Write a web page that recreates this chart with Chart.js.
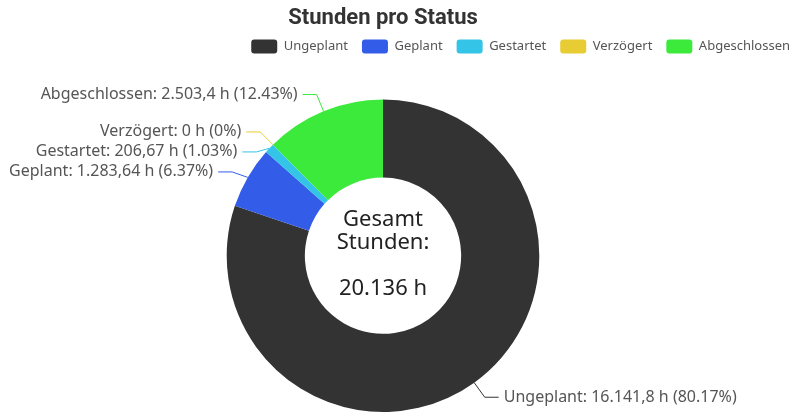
<!DOCTYPE html>
<html>
<head>
<meta charset="utf-8">
<script src="https://cdn.jsdelivr.net/npm/chart.js@4.4.0/dist/chart.umd.min.js"></script>
<style>
  html,body{margin:0;padding:0;background:#fff;}
  #wrap{width:793px;height:419px;position:relative;}
</style>
</head>
<body>
<div id="wrap"><canvas id="chartStatus"></canvas></div>
<script>
/* ==========================================
   DATA
========================================== */
const statusLabels = ["Ungeplant","Geplant","Gestartet","Verzögert","Abgeschlossen"];
const statusHours = [16141.8, 1283.64, 206.67, 0, 2503.4];
const statusPercent = [80.17, 6.37, 1.03, 0, 12.43];
const statusColors = ["#333333","#335ce8","#33c4e8","#e8cc33","#3bea3b"];
const centerLines = ["Gesamt","Stunden:",""];

const FONT = '"Noto Sans", "Open Sans", sans-serif';

function fmtDE(v){
  const parts = String(+v.toFixed(2)).split(".");
  parts[0] = parts[0].replace(/\B(?=(\d{3})+(?!\d))/g,".");
  return parts.join(",");
}

/* ==========================================
   PLUGINS
========================================== */
const legendGap = {
  id:"legendGap",
  beforeInit(chart){
    const fit = chart.legend.fit;
    chart.legend.fit = function(){
      fit.call(this);
      this.height += 30;
    };
  },
  afterLayout(chart){
    chart.legend.right = chart.width + 11;
    chart.legend.top -= 6;
  }
};

const outsideLabels = {
  id:"outsideLabels",
  afterDatasetsDraw(chart){

    const ctx = chart.ctx;
    const meta = chart.getDatasetMeta(0);
    const total = statusHours.reduce((a,b)=>a+b,0);

    const items = meta.data.map((arc,i)=>{
      const p = arc.getProps(["x","y","startAngle","endAngle","outerRadius"],true);
      const mid = (p.startAngle+p.endAngle)/2;
      const c = Math.cos(mid), s = Math.sin(mid);
      return {
        i,
        right:c>=0,
        cx:p.x, cy:p.y,
        ax:p.x+c*p.outerRadius, ay:p.y+s*p.outerRadius,
        ex:p.x+c*(p.outerRadius+18), ey:p.y+s*(p.outerRadius+18)
      };
    });

    // push labels apart on each side
    [true,false].forEach(side=>{
      const list = items.filter(it=>it.right===side).sort((a,b)=>a.ey-b.ey);
      for(let k=1;k<list.length;k++){
        if(list[k].ey < list[k-1].ey+20){
          list[k].ey = list[k-1].ey+20;
        }
      }
    });

    ctx.save();
    ctx.font = "16px " + FONT;
    ctx.textBaseline = "middle";
    ctx.lineWidth = 1;

    items.forEach(it=>{
      const dir = it.right ? 1 : -1;
      const hx = it.ex + dir*14;
      ctx.strokeStyle = statusColors[it.i];
      ctx.beginPath();
      ctx.moveTo(it.ax,it.ay);
      ctx.lineTo(it.ex,it.ey);
      ctx.lineTo(hx,it.ey);
      ctx.stroke();

      ctx.fillStyle = "#555";
      ctx.textAlign = it.right ? "left" : "right";
      ctx.fillText(
        statusLabels[it.i]+": "+fmtDE(statusHours[it.i])+" h ("+statusPercent[it.i]+"%)",
        hx+dir*5, it.ey
      );
    });

    // center text
    const cx = items[0].cx, cy = items[0].cy;
    const lines = centerLines.concat([fmtDE(Math.round(total))+" h"]);
    ctx.font = "22px " + FONT;
    ctx.fillStyle = "#222";
    ctx.textAlign = "center";
    lines.forEach((t,k)=>{
      ctx.fillText(t, cx, cy-35.5+k*23);
    });

    ctx.restore();
  }
};

/* ==========================================
   CHART
========================================== */
new Chart(
  document.getElementById("chartStatus"),
  {
    type:"doughnut",
    data:{
      labels:statusLabels,
      datasets:[
        {
          data:statusHours,
          backgroundColor:statusColors,
          borderWidth:0,
          hoverOffset:0
        }
      ]
    },
    options:{
      responsive:true,
      maintainAspectRatio:false,
      animation:false,
      cutout:"50%",
      layout:{
        padding:{top:5,right:27,bottom:7,left:0}
      },
      plugins:{
        title:{
          display:true,
          text:"Stunden pro Status",
          color:"#333",
          font:{family:"Roboto",size:22,weight:"bold"},
          padding:{top:0,bottom:0}
        },
        legend:{
          position:"top",
          align:"end",
          labels:{
            boxWidth:26,
            boxHeight:14,
            useBorderRadius:true,
            borderRadius:3,
            padding:14,
            color:"#555",
            font:{family:"Noto Sans",size:13}
          }
        },
        tooltip:{enabled:false}
      }
    },
    plugins:[legendGap,outsideLabels]
  }
);
</script>
</body>
</html>
